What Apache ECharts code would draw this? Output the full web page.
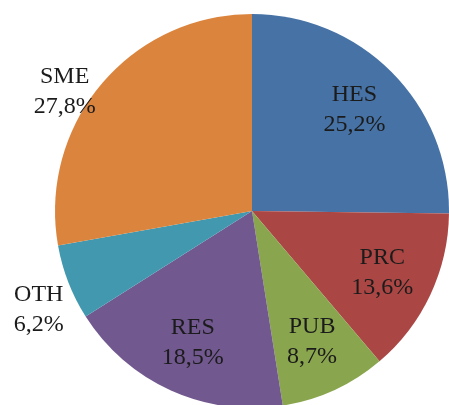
<!DOCTYPE html>
<html>
<head>
<meta charset="utf-8">
<script src="https://cdn.jsdelivr.net/npm/echarts@6/dist/echarts.min.js"></script>
<style>
  * { margin: 0; padding: 0; }
  html, body { background: #fff; }
</style>
</head>
<body>
<div id="pieId" style="width: 449px; height: 405px"></div>
<script>
// 各类别占比（%），从12点方向顺时针
const categories = ["HES", "PRC", "PUB", "RES", "OTH", "SME"];
const shares = [25.2, 13.6, 8.7, 18.5, 6.2, 27.8];

const sliceColors = ["#4672a5", "#aa4744", "#89a54e", "#71588f", "#4198af", "#db843d"];
// OTH 和 SME 的标签放在饼外，需要挪一下
const labelOffsets = { OTH: [-79, 47], SME: [-77, -27] };

const center = [252, 211];

let chart = echarts.init(document.getElementById("pieId"));

let pieData = categories.map((name, i) => ({
  name: name,
  value: shares[i],
  itemStyle: { color: sliceColors[i] },
}));

// 透明的一层只用来放标签，半径大一点让标签离圆心远些
let labelData = categories.map((name, i) => ({
  name: name,
  value: shares[i],
  label: labelOffsets[name] ? { offset: labelOffsets[name] } : {},
}));

let option = {
  animation: false,
  series: [
    {
      type: "pie",
      center: center,
      radius: 197,
      startAngle: 90,
      silent: true,
      label: { show: false },
      labelLine: { show: false },
      data: pieData,
    },
    {
      type: "pie",
      center: center,
      radius: 282,
      startAngle: 90,
      silent: true,
      itemStyle: { color: "transparent" },
      labelLine: { show: false },
      label: {
        show: true,
        position: "inside",
        fontFamily: "Liberation Serif",
        fontSize: 24,
        lineHeight: 30,
        color: "#1b1b1b",
        formatter: (p) => p.name + "\n" + p.value.toFixed(1).replace(".", ",") + "%",
      },
      data: labelData,
    },
  ],
};
chart.setOption(option);
</script>
</body>
</html>
